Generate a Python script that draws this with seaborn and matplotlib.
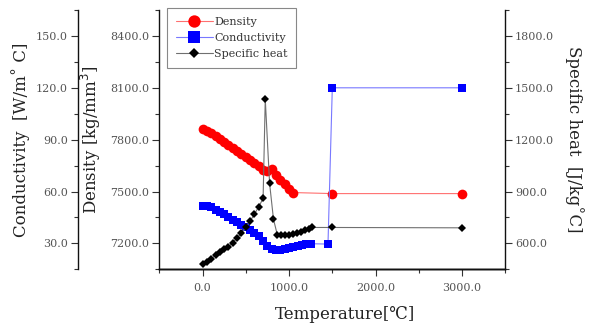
import numpy as np
import pandas as pd
import seaborn as sns
import matplotlib
matplotlib.use('Agg')
import matplotlib.pyplot as plt
from matplotlib.lines import Line2D
from matplotlib.ticker import MultipleLocator, FormatStrFormatter

# values
temp_dens = [0, 50, 100, 150, 200, 250, 300, 350, 400, 450, 500, 550, 600, 650,
             700, 750, 800, 850, 900, 950, 1000, 1050, 1500, 3000]
density = [7863, 7850, 7836, 7820, 7805, 7789, 7771, 7754, 7736, 7718, 7700, 7682,
           7664, 7645, 7626, 7616, 7632, 7598, 7568, 7541, 7515, 7494, 7488, 7488]

temp_cond = [0, 50, 100, 150, 200, 250, 300, 350, 400, 450, 500, 550, 600, 650,
             700, 750, 800, 850, 900, 950, 1000, 1050, 1100, 1150, 1200, 1250,
             1450, 1500, 3000]
conductivity = [51.7, 51.5, 51.0, 49.5, 48.3, 47.0, 45.3, 43.8, 42.3, 40.8, 39.3,
                37.5, 35.8, 34.0, 31.5, 28.5, 26.5, 26.0, 26.2, 26.6, 27.1, 27.7,
                28.3, 28.9, 29.4, 29.8, 29.6, 120.0, 120.0]

temp_cp = [0, 50, 100, 150, 200, 250, 300, 350, 400, 450, 500, 550, 600, 650, 700,
           725, 775, 820, 865, 910, 955, 1000, 1045, 1090, 1135, 1180, 1225, 1260,
           1500, 3000]
specific_heat = [480, 495, 512, 530, 548, 566, 580, 605, 632, 660, 692, 728, 770,
                 812, 860, 1435, 947, 740, 648, 647, 648, 651, 655, 661, 668, 676,
                 685, 692, 692, 690]

series_names = ['Density', 'Conductivity', 'Specific heat']

df_d = pd.DataFrame({'T': temp_dens, 'v': density})
df_k = pd.DataFrame({'T': temp_cond, 'v': conductivity})
df_c = pd.DataFrame({'T': temp_cp, 'v': specific_heat})

sns.set_style('ticks')
plt.rcParams['font.family'] = ['DejaVu Serif', 'DejaVu Sans', 'Noto Sans CJK KR']

tick_col = '#555555'
lab_col = '#222222'

fig = plt.figure(figsize=(5.95, 3.24), dpi=100)
ax = fig.add_axes([0.2677, 0.1688, 0.5816, 0.8003])
ax_k = ax.twinx()
ax_c = ax.twinx()

red_kw = dict(color='#ff7070', lw=0.8, marker='o', markersize=7,
              markerfacecolor='#ff0000', markeredgecolor='#ff0000', markeredgewidth=0)
blue_kw = dict(color='#7878ff', lw=0.8, marker='s', markersize=6.3,
               markerfacecolor='#0000ff', markeredgecolor='#0000ff', markeredgewidth=0)
blk_kw = dict(color='#707070', lw=0.8, marker='D', markersize=4.3,
              markerfacecolor='#000000', markeredgecolor='#000000', markeredgewidth=0)

sns.lineplot(data=df_d, x='T', y='v', ax=ax, **red_kw)
sns.lineplot(data=df_k, x='T', y='v', ax=ax_k, **blue_kw)
sns.lineplot(data=df_c, x='T', y='v', ax=ax_c, **blk_kw)

ax.set_xlim(-500, 3500)
ax.set_ylim(7050, 8550)
ax_k.set_ylim(15, 165)
ax_c.set_ylim(450, 1950)

ax.xaxis.set_major_locator(MultipleLocator(1000))
ax.xaxis.set_minor_locator(MultipleLocator(500))
ax.yaxis.set_major_locator(MultipleLocator(300))
ax.yaxis.set_minor_locator(MultipleLocator(150))
ax_k.yaxis.set_major_locator(MultipleLocator(30))
ax_k.yaxis.set_minor_locator(MultipleLocator(15))
ax_c.yaxis.set_major_locator(MultipleLocator(300))
ax_c.yaxis.set_minor_locator(MultipleLocator(150))
for a in (ax, ax_k, ax_c):
    a.yaxis.set_major_formatter(FormatStrFormatter('%.1f'))
ax.xaxis.set_major_formatter(FormatStrFormatter('%.1f'))

# spines
for a in (ax, ax_k, ax_c):
    a.spines['top'].set_visible(False)
ax.spines['right'].set_visible(False)
ax_k.spines['right'].set_visible(False)
ax_k.spines['left'].set_visible(True)
ax_k.spines['left'].set_position(('axes', -0.236))
ax_k.yaxis.set_ticks_position('left')
ax_k.yaxis.set_label_position('left')
ax_c.spines['left'].set_visible(False)
ax_c.spines['right'].set_visible(True)
for a in (ax, ax_k, ax_c):
    for s in a.spines.values():
        s.set_linewidth(1.0)
        s.set_color('#111111')
    a.tick_params(which='major', direction='out', length=5, width=0.8,
                  color='#333333', labelsize=8, labelcolor=tick_col, pad=2)
    a.tick_params(which='minor', direction='out', length=3, width=0.8, color='#333333')
ax.tick_params(axis='x', which='major', pad=5)

ax.set_xlabel('Temperature[℃]', fontsize=12, color=lab_col)
ax.set_ylabel('Density [kg/mm$^3$]', fontsize=12, color=lab_col)
ax_k.set_ylabel('Conductivity  [W/m˚ C]', fontsize=12, color=lab_col)
ax_c.set_ylabel('Specific heat  [J/kg˚C]', fontsize=12, color=lab_col, rotation=270)
ax.xaxis.set_label_coords(0.537, -0.142)
ax.yaxis.set_label_coords(-0.163, 0.5)
ax_k.yaxis.set_label_coords(-0.374, 0.5)
ax_c.yaxis.set_label_coords(1.201, 0.5)
ax_c.yaxis.label.set_va('center')

handles = [
    Line2D([], [], color='#ff7070', lw=0.8, marker='o', markersize=8.9,
           markerfacecolor='#ff0000', markeredgewidth=0),
    Line2D([], [], color='#7878ff', lw=0.8, marker='s', markersize=8.4,
           markerfacecolor='#0000ff', markeredgewidth=0),
    Line2D([], [], color='#707070', lw=0.8, marker='D', markersize=5.4,
           markerfacecolor='#000000', markeredgewidth=0),
]
leg = ax_c.legend(handles, series_names, loc='upper left', bbox_to_anchor=(0.023, 1.007),
                  borderaxespad=0, fontsize=8, frameon=True, fancybox=False,
                  edgecolor='#888888', framealpha=1, handlelength=3.3,
                  handletextpad=0.1, labelspacing=0.55, borderpad=0.8)
leg.get_frame().set_linewidth(0.8)
for t in leg.get_texts():
    t.set_color('#333333')

fig.savefig('out.png', dpi=100)
